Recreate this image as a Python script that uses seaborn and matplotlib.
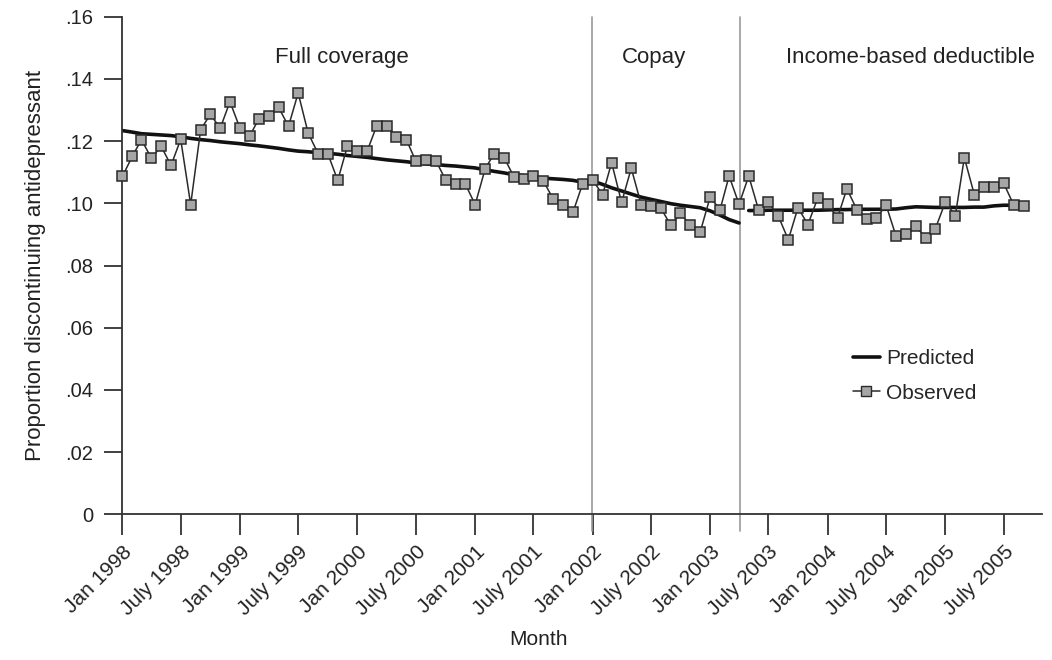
import pandas as pd
import matplotlib.pyplot as plt
from matplotlib.lines import Line2D
from matplotlib.ticker import FuncFormatter
import seaborn as sns

# monthly data, Jan 1998 - Sep 2005
months = pd.date_range("1998-01-01", periods=93, freq="MS")

observed = [
    .1087, .1152, .1205, .1145, .1184, .1122, .1206, .0996, .1237, .1286, .1242, .1327,  # 1998
    .1242, .1218, .1272, .1280, .1309, .1248, .1355, .1226, .1160, .1160, .1074, .1184,  # 1999
    .1170, .1170, .1249, .1249, .1213, .1205, .1135, .1141, .1137, .1076, .1063, .1063,  # 2000
    .0996, .1111, .1160, .1147, .1086, .1079, .1088, .1072, .1013, .0996, .0972, .1063,  # 2001
    .1075, .1028, .1131, .1003, .1113, .0996, .0990, .0985, .0929, .0968, .0929, .0907,  # 2002
    .1020, .0980, .1088, .0997, .1088, .0978, .1004, .0959, .0883, .0986, .0932, .1016,  # 2003
    .0999, .0954, .1047, .0980, .0950, .0954, .0994, .0894, .0900, .0926, .0890, .0919,  # 2004
    .1004, .0961, .1147, .1028, .1052, .1052, .1065, .0996, .0993,                       # 2005
]

predicted = [
    .1234, .1229, .1224, .1222, .1220, .1218, .1214, .1209, .1205, .1202, .1198, .1195,
    .1192, .1188, .1185, .1181, .1177, .1172, .1168, .1166, .1163, .1161, .1158, .1154,
    .1151, .1148, .1144, .1140, .1137, .1134, .1130, .1127, .1125, .1122, .1120, .1117,
    .1114, .1108, .1103, .1098, .1092, .1089, .1085, .1081, .1079, .1077, .1074, .1068,
    .1072, .1061, .1050, .1040, .1030, .1020, .1013, .1006, .0999, .0994, .0990, .0986,
    .0976, .0962, .0948, .0937,
    .0977, .0977, .0978, .0978, .0978, .0978, .0978, .0978,
    .0979, .0980, .0980, .0981, .0981, .0981, .0981, .0982, .0986, .0989, .0988, .0987,
    .0987, .0987, .0987, .0988, .0988, .0992, .0994, .0994, .0994,
]

periods = ["Full coverage", "Copay", "Income-based deductible"]
period_lengths = [48, 16, 29]
period_of_month = [p for p, n in zip(periods, period_lengths) for _ in range(n)]

df = pd.DataFrame({"month": months, "observed": observed,
                   "predicted": predicted, "period": period_of_month})

sns.set_style("ticks")
plt.rcParams["font.family"] = ["Liberation Sans", "DejaVu Sans"]

fig = plt.figure(figsize=(10.52, 6.6), dpi=100)
ax = fig.add_axes([0.1164, 0.2206, 0.874, 0.754])

# predicted: one line per policy period
for p in periods:
    sns.lineplot(data=df[df.period == p], x="month", y="predicted", color="#111111",
                 linewidth=2.6, ax=ax, legend=False, zorder=2)

sns.lineplot(data=df, x="month", y="observed", color="#2a2a2a", linewidth=1.1,
             marker="s", markersize=7.5, markerfacecolor="#a6a6a6",
             markeredgecolor="#2a2a2a", markeredgewidth=1.1, ax=ax, legend=False,
             zorder=3, clip_on=False)

# policy change lines
for d in ["2001-12-30", "2003-04-05"]:
    ax.axvline(pd.Timestamp(d), ymin=-0.034, ymax=1, color="#999999", lw=1.2,
               clip_on=False, zorder=1)

label_pos = ["1999-11-15", "2002-07-10", "2004-09-15"]
for p, d in zip(periods, label_pos):
    ax.text(pd.Timestamp(d), 0.1468, p, ha="center", va="center", fontsize=16, color="#222222")

ax.set_xlim(pd.Timestamp("1998-01-01"), pd.Timestamp("2005-10-28"))
ax.set_ylim(0, 0.16)
ax.set_yticks([0, .02, .04, .06, .08, .10, .12, .14, .16])
ax.yaxis.set_major_formatter(FuncFormatter(lambda v, _: "0" if v == 0 else f"{v:.2f}".lstrip("0")))

tick_dates = pd.date_range("1998-01-01", "2005-07-01", freq="6MS")
ax.set_xticks(tick_dates)
ax.set_xticklabels([("Jan " if d.month == 1 else "July ") + str(d.year) for d in tick_dates],
                   rotation=45, ha="right", rotation_mode="anchor")

ax.tick_params(axis="both", width=1.3, color="#333333", labelcolor="#222222")
ax.tick_params(axis="x", length=15, pad=5, labelsize=15)
ax.tick_params(axis="y", length=13, pad=8, labelsize=14.5)
for s in ["left", "bottom"]:
    ax.spines[s].set_linewidth(1.3)
    ax.spines[s].set_color("#333333")
sns.despine(ax=ax)

ax.set_xlabel("Month", fontsize=15, color="#222222")
ax.xaxis.set_label_coords(0.452, -0.232)
ax.set_ylabel("Proportion discontinuing antidepressant", fontsize=16, color="#222222", labelpad=14)

handles = [Line2D([], [], color="#111111", lw=2.6),
           Line2D([], [], color="#2a2a2a", lw=1.1, marker="s", markersize=7.5,
                  markerfacecolor="#a6a6a6", markeredgecolor="#2a2a2a")]
ax.legend(handles, ["Predicted", "Observed"], loc="upper left", bbox_to_anchor=(0.774, 0.37),
          frameon=False, fontsize=15, handlelength=1.3, handletextpad=0.3, labelspacing=0.75)

fig.savefig("out.png", dpi=100)
